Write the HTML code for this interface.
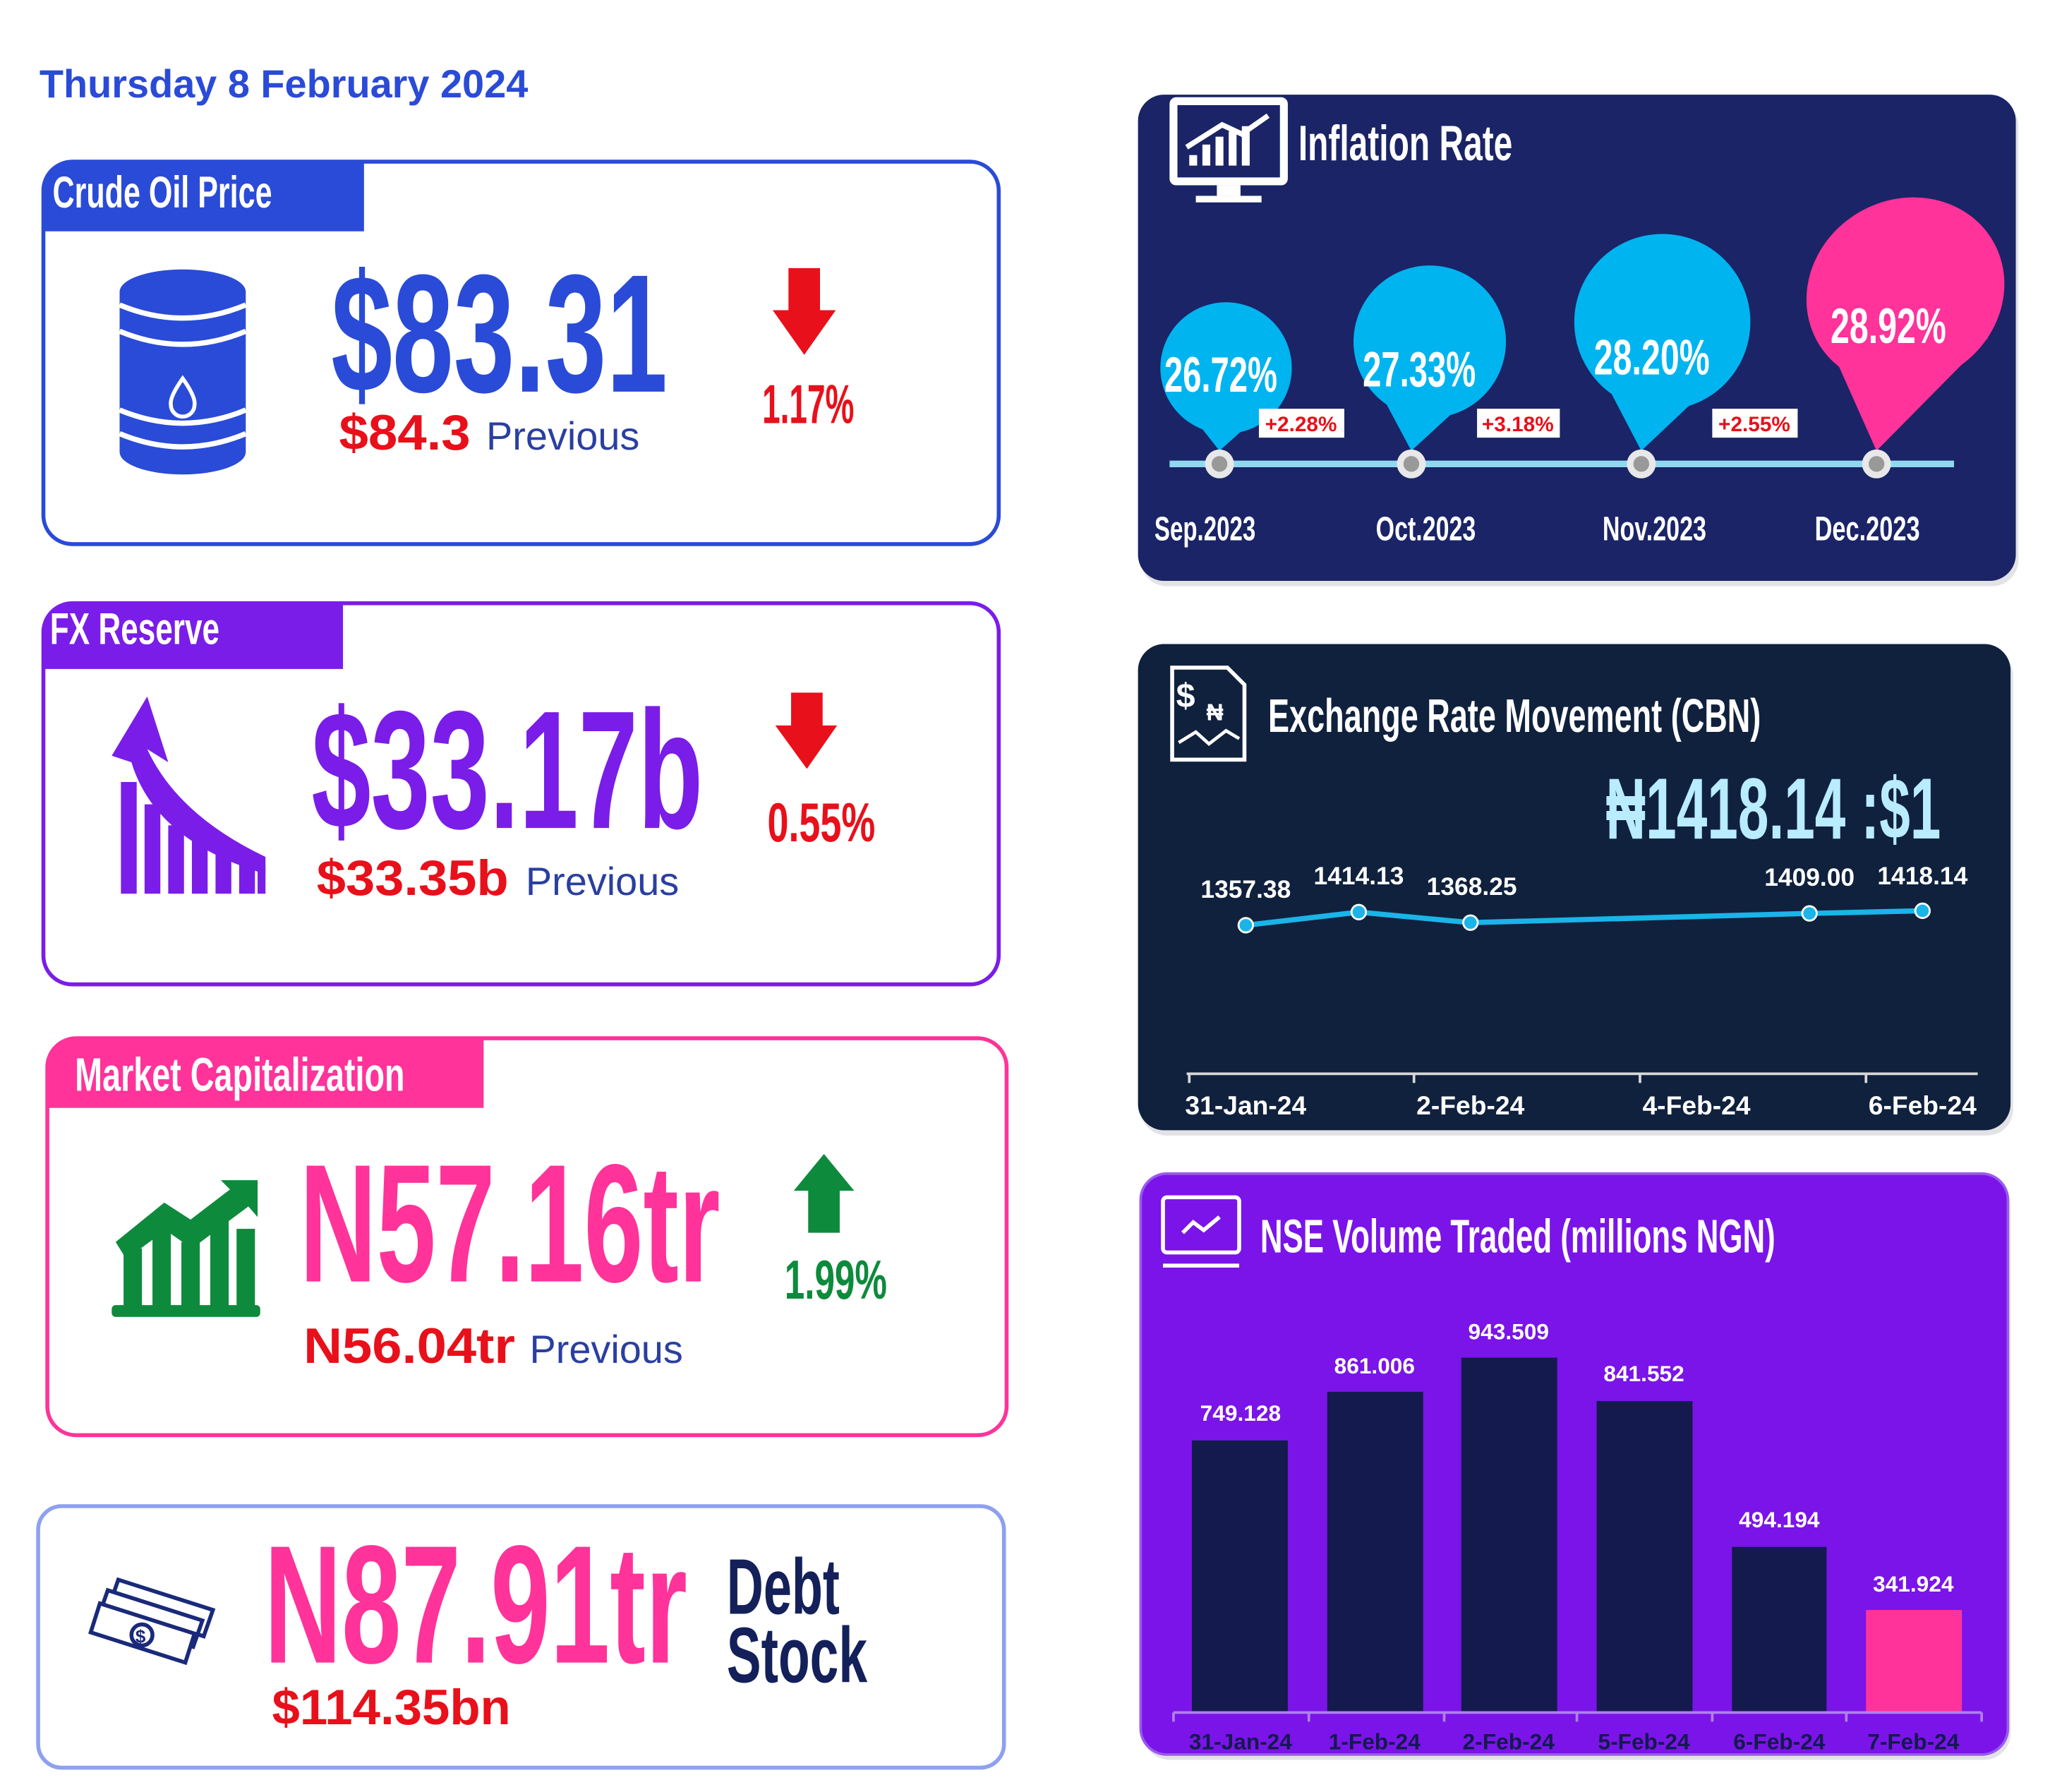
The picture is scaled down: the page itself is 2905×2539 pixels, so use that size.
<!DOCTYPE html>
<html><head><meta charset="utf-8"><style>
html,body{margin:0;padding:0;background:#fff;}
svg{display:block;}
.c{font-family:"Liberation Sans Narrow","Liberation Sans",sans-serif;font-weight:bold;}
.s{font-family:"Liberation Sans",sans-serif;}
</style></head><body>
<svg width="2905" height="2539" viewBox="0 0 1560 1363.5" xmlns="http://www.w3.org/2000/svg">
<rect width="1560" height="1364" fill="#fff"/>
<text x="30" y="74" class="s" font-weight="bold" font-size="30" fill="#2a4bd7">Thursday 8 February 2024</text>

<!-- Card 1 -->
<rect x="33" y="123" width="727" height="291" rx="22" fill="#fff" stroke="#2a4bd7" stroke-width="3"/>
<path d="M33 145 Q33 123 55 123 L277 123 L277 176 L33 176 Z" fill="#2a4bd7"/>
<text x="40" y="158" class="c" font-size="34" fill="#fff" textLength="167" lengthAdjust="spacingAndGlyphs">Crude Oil Price</text>
<g fill="#2a4bd7">
<rect x="91" y="222" width="96" height="122"/>
<ellipse cx="139" cy="222" rx="48" ry="17"/>
<ellipse cx="139" cy="344" rx="48" ry="17"/>
</g>
<g fill="none" stroke="#fff" stroke-width="4">
<path d="M91 232 Q139 252 187 232"/><path d="M91 252 Q139 272 187 252"/><path d="M91 312 Q139 332 187 312"/><path d="M91 330 Q139 350 187 330"/>
<path d="M139 288 Q129 302 130 308 A9 9 0 0 0 148 308 Q149 302 139 288 Z" stroke-width="3"/>
</g>
<text x="252" y="298" class="c" font-size="128" fill="#2a4bd7" textLength="256" lengthAdjust="spacingAndGlyphs">$83.31</text>
<text x="258" y="342" class="s" font-weight="bold" font-size="38" fill="#e8101a" textLength="100" lengthAdjust="spacingAndGlyphs">$84.3</text>
<text x="370" y="342" class="s" font-size="30" fill="#2a3fa0">Previous</text>
<path d="M600 204 L624 204 L624 236 L636 236 L612 270 L588 236 L600 236 Z" fill="#e8101a"/>
<text x="580" y="322" class="c" font-size="42" fill="#e8101a" textLength="70" lengthAdjust="spacingAndGlyphs">1.17%</text>

<!-- Card 2 -->
<rect x="33" y="459" width="727" height="290" rx="22" fill="#fff" stroke="#7a1de8" stroke-width="3"/>
<path d="M33 481 Q33 459 55 459 L261 459 L261 509 L33 509 Z" fill="#7a1de8"/>
<text x="38" y="490" class="c" font-size="34" fill="#fff" textLength="129" lengthAdjust="spacingAndGlyphs">FX Reserve</text>
<g fill="#7a1de8">
<rect x="92" y="595" width="12" height="85"/><rect x="110" y="612" width="12" height="68"/><rect x="128" y="628" width="12" height="52"/><rect x="146" y="640" width="12" height="40"/><rect x="164" y="650" width="12" height="30"/><rect x="182" y="656" width="12" height="24"/><rect x="196" y="660" width="6" height="20"/>
<path d="M85 575 L112 530 L128 580 L112 570 Q135 620 202 652 L202 665 Q118 640 100 580 Z"/>
</g>
<text x="237" y="630" class="c" font-size="128" fill="#7a1de8" textLength="298" lengthAdjust="spacingAndGlyphs">$33.17b</text>
<text x="241" y="681" class="s" font-weight="bold" font-size="38" fill="#e8101a" textLength="146" lengthAdjust="spacingAndGlyphs">$33.35b</text>
<text x="400" y="681" class="s" font-size="30" fill="#2a3fa0">Previous</text>
<path d="M602 527 L626 527 L626 552 L637 552 L614 585 L590 552 L602 552 Z" fill="#e8101a"/>
<text x="584" y="640" class="c" font-size="42" fill="#e8101a" textLength="82" lengthAdjust="spacingAndGlyphs">0.55%</text>

<!-- Card 3 -->
<rect x="36" y="790" width="730" height="302" rx="22" fill="#fff" stroke="#ff3399" stroke-width="3"/>
<path d="M36 812 Q36 790 58 790 L368 790 L368 843 L36 843 Z" fill="#ff3399"/>
<text x="57" y="830" class="c" font-size="36" fill="#fff" textLength="251" lengthAdjust="spacingAndGlyphs">Market Capitalization</text>
<g fill="#0e8a3c">
<rect x="85" y="993" width="113" height="9" rx="3"/>
<rect x="94" y="950" width="14" height="45"/><rect x="116" y="935" width="14" height="60"/><rect x="138" y="945" width="14" height="50"/><rect x="160" y="925" width="14" height="70"/><rect x="180" y="935" width="14" height="60"/>
<path d="M88 945 L125 915 L145 928 L175 905 L168 898 L196 898 L196 926 L189 918 L146 950 L126 936 L96 958 Z"/>
</g>
<text x="228" y="975" class="c" font-size="128" fill="#ff3399" textLength="320" lengthAdjust="spacingAndGlyphs">N57.16tr</text>
<text x="231" y="1037" class="s" font-weight="bold" font-size="38" fill="#e8101a" textLength="161" lengthAdjust="spacingAndGlyphs">N56.04tr</text>
<text x="403" y="1037" class="s" font-size="30" fill="#2a3fa0">Previous</text>
<path d="M627 878 L650 906 L639 906 L639 938 L615 938 L615 906 L604 906 Z" fill="#0e8a3c"/>
<text x="597" y="988" class="c" font-size="42" fill="#0e8a3c" textLength="78" lengthAdjust="spacingAndGlyphs">1.99%</text>

<!-- Card 4 -->
<rect x="29" y="1146" width="735" height="199" rx="18" fill="#fff" stroke="#8ea0f0" stroke-width="3"/>
<g fill="none" stroke="#1a2a7a" stroke-width="3">
<path d="M90 1202 L162 1225 L155 1245 L83 1222 Z"/>
<path d="M82 1210 L154 1233 L147 1253 L75 1230 Z" fill="#fff"/>
<path d="M76 1220 L148 1243 L141 1265 L69 1242 Z" fill="#fff"/>
<circle cx="108" cy="1244" r="8"/>
</g>
<text x="103" y="1250" class="s" font-weight="bold" font-size="14" fill="#1a2a7a">$</text>
<text x="201" y="1265" class="c" font-size="128" fill="#ff3399" textLength="322" lengthAdjust="spacingAndGlyphs">N87.91tr</text>
<text x="207" y="1312" class="s" font-weight="bold" font-size="38" fill="#e8101a">$114.35bn</text>
<text x="553" y="1228" class="c" font-size="60" fill="#13205a" textLength="86" lengthAdjust="spacingAndGlyphs">Debt</text>
<text x="553" y="1280" class="c" font-size="60" fill="#13205a" textLength="107" lengthAdjust="spacingAndGlyphs">Stock</text>

<!-- Panel 1: Inflation -->
<rect x="868" y="76" width="668" height="370" rx="20" fill="#c8c8d0" opacity="0.5"/>
<rect x="866" y="72" width="668" height="370" rx="20" fill="#1a2466"/>
<rect x="890" y="74" width="90" height="67" rx="5" fill="#fff"/>
<rect x="896" y="80" width="78" height="55" fill="#1a2466"/>
<rect x="926" y="141" width="18" height="8" fill="#fff"/><rect x="910" y="149" width="50" height="5" fill="#fff"/>
<g fill="#fff"><rect x="905" y="118" width="6" height="8"/><rect x="915" y="110" width="6" height="16"/><rect x="925" y="104" width="6" height="22"/><rect x="935" y="100" width="6" height="26"/><rect x="945" y="96" width="6" height="30"/></g>
<path d="M903 112 L930 95 L945 102 L965 88" stroke="#fff" stroke-width="4" fill="none"/>
<text x="988" y="122" class="c" font-size="38" fill="#fff" textLength="163" lengthAdjust="spacingAndGlyphs">Inflation Rate</text>
<line x1="890" y1="353" x2="1487" y2="353" stroke="#8fd8f0" stroke-width="5"/>
<g fill="#00b4f0">
<circle cx="933" cy="280" r="50"/><polygon points="928,343 977,299 887,291"/>
<circle cx="1088" cy="260" r="58"/><polygon points="1074,343 1136,286 1034,268"/>
<circle cx="1265" cy="245" r="67"/><polygon points="1249,343 1321,275 1203,255"/>
</g>
<g fill="#ff3399"><ellipse cx="1450" cy="222" rx="77" ry="70" transform="rotate(-30 1450 222)"/><polygon points="1428,343 1513,257 1379,233"/></g>
<g class="c" font-size="38" fill="#fff" text-anchor="middle">
<text x="929" y="298" textLength="86" lengthAdjust="spacingAndGlyphs">26.72%</text>
<text x="1080" y="294" textLength="86" lengthAdjust="spacingAndGlyphs">27.33%</text>
<text x="1257" y="285" textLength="88" lengthAdjust="spacingAndGlyphs">28.20%</text>
<text x="1437" y="261" textLength="88" lengthAdjust="spacingAndGlyphs">28.92%</text>
</g>
<g fill="#fff"><rect x="958" y="311" width="65" height="22"/><rect x="1124" y="311" width="63" height="22"/><rect x="1303" y="311" width="65" height="22"/></g>
<g class="s" font-weight="bold" font-size="16" fill="#e8101a" text-anchor="middle">
<text x="990" y="328">+2.28%</text><text x="1155" y="328">+3.18%</text><text x="1335" y="328">+2.55%</text>
</g>
<g><circle cx="928" cy="353" r="11" fill="#e8e8e8"/><circle cx="928" cy="353" r="6" fill="#999"/>
<circle cx="1074" cy="353" r="11" fill="#e8e8e8"/><circle cx="1074" cy="353" r="6" fill="#999"/>
<circle cx="1249" cy="353" r="11" fill="#e8e8e8"/><circle cx="1249" cy="353" r="6" fill="#999"/>
<circle cx="1428" cy="353" r="11" fill="#e8e8e8"/><circle cx="1428" cy="353" r="6" fill="#999"/></g>
<g class="c" font-size="26" fill="#fff" text-anchor="middle">
<text x="917" y="411" textLength="77" lengthAdjust="spacingAndGlyphs">Sep.2023</text><text x="1085" y="411" textLength="76" lengthAdjust="spacingAndGlyphs">Oct.2023</text><text x="1259" y="411" textLength="79" lengthAdjust="spacingAndGlyphs">Nov.2023</text><text x="1421" y="411" textLength="80" lengthAdjust="spacingAndGlyphs">Dec.2023</text>
</g>

<!-- Panel 2: Exchange -->
<rect x="868" y="494" width="664" height="370" rx="20" fill="#c8c8d0" opacity="0.5"/>
<rect x="866" y="490" width="664" height="370" rx="20" fill="#10213d"/>
<path d="M892 508 L934 508 L947 521 L947 578 L892 578 Z" fill="none" stroke="#fff" stroke-width="3"/>
<text x="895" y="538" class="s" font-weight="bold" font-size="26" fill="#fff">$</text>
<text x="918" y="548" class="s" font-weight="bold" font-size="18" fill="#fff">₦</text>
<path d="M897 565 L910 557 L920 566 L933 556 L943 562" stroke="#fff" stroke-width="2.5" fill="none"/>
<text x="965" y="557" class="c" font-size="36" fill="#fff" textLength="375" lengthAdjust="spacingAndGlyphs">Exchange Rate Movement (CBN)</text>
<text x="1222" y="638" class="c" font-size="66" fill="#b9ecff" textLength="255" lengthAdjust="spacingAndGlyphs">₦1418.14 :$1</text>
<polyline points="948,704 1034,694 1119,702 1377,695 1463,693" fill="none" stroke="#1ab4e8" stroke-width="4"/>
<g fill="#1ab4e8" stroke="#fff" stroke-width="1.5">
<circle cx="948" cy="704" r="5.5"/><circle cx="1034" cy="694" r="5.5"/><circle cx="1119" cy="702" r="5.5"/><circle cx="1377" cy="695" r="5.5"/><circle cx="1463" cy="693" r="5.5"/></g>
<g class="s" font-weight="bold" font-size="19" fill="#fff" text-anchor="middle">
<text x="948" y="683">1357.38</text><text x="1034" y="673">1414.13</text><text x="1120" y="681">1368.25</text><text x="1377" y="674">1409.00</text><text x="1463" y="673">1418.14</text>
</g>
<line x1="903" y1="817" x2="1505" y2="817" stroke="#d8d8d8" stroke-width="2"/>
<g stroke="#d8d8d8" stroke-width="2"><line x1="905" y1="817" x2="905" y2="824"/><line x1="1076" y1="817" x2="1076" y2="824"/><line x1="1248" y1="817" x2="1248" y2="824"/><line x1="1420" y1="817" x2="1420" y2="824"/></g>
<g class="s" font-weight="bold" font-size="20" fill="#fff" text-anchor="middle">
<text x="948" y="848">31-Jan-24</text><text x="1119" y="848">2-Feb-24</text><text x="1291" y="848">4-Feb-24</text><text x="1463" y="848">6-Feb-24</text>
</g>

<!-- Panel 3: NSE -->
<rect x="870" y="897" width="660" height="442" rx="20" fill="#c8c8d0" opacity="0.5"/>
<rect x="868" y="893" width="660" height="442" rx="20" fill="#7a14e8" stroke="#9a5af0" stroke-width="2"/>
<rect x="885" y="911" width="58" height="42" rx="3" fill="none" stroke="#fff" stroke-width="3"/>
<line x1="885" y1="963" x2="943" y2="963" stroke="#fff" stroke-width="3"/>
<path d="M900 938 L908 930 L916 936 L928 926" stroke="#fff" stroke-width="3" fill="none"/>
<text x="959" y="953" class="c" font-size="36" fill="#fff" textLength="392" lengthAdjust="spacingAndGlyphs">NSE Volume Traded (millions NGN)</text>
<g fill="#141a4e">
<rect x="907" y="1096" width="73" height="206"/><rect x="1010" y="1059" width="73" height="243"/><rect x="1112" y="1033" width="73" height="269"/><rect x="1215" y="1066" width="73" height="236"/><rect x="1318" y="1177" width="72" height="125"/>
</g>
<rect x="1420" y="1225" width="73" height="77" fill="#ff3399"/>
<g class="s" font-weight="bold" font-size="17" fill="#fff" text-anchor="middle">
<text x="944" y="1081">749.128</text><text x="1046" y="1045">861.006</text><text x="1148" y="1019">943.509</text><text x="1251" y="1051">841.552</text><text x="1354" y="1162">494.194</text><text x="1456" y="1211">341.924</text>
</g>
<line x1="893" y1="1303" x2="1508" y2="1303" stroke="#b080f0" stroke-width="2"/>
<g stroke="#b080f0" stroke-width="2"><line x1="893" y1="1303" x2="893" y2="1310"/><line x1="996" y1="1303" x2="996" y2="1310"/><line x1="1099" y1="1303" x2="1099" y2="1310"/><line x1="1200" y1="1303" x2="1200" y2="1310"/><line x1="1303" y1="1303" x2="1303" y2="1310"/><line x1="1405" y1="1303" x2="1405" y2="1310"/><line x1="1508" y1="1303" x2="1508" y2="1310"/></g>
<g class="s" font-weight="bold" font-size="17" fill="#141a4e" text-anchor="middle">
<text x="944" y="1331">31-Jan-24</text><text x="1046" y="1331">1-Feb-24</text><text x="1148" y="1331">2-Feb-24</text><text x="1251" y="1331">5-Feb-24</text><text x="1354" y="1331">6-Feb-24</text><text x="1456" y="1331">7-Feb-24</text>
</g>
</svg>
</body></html>
